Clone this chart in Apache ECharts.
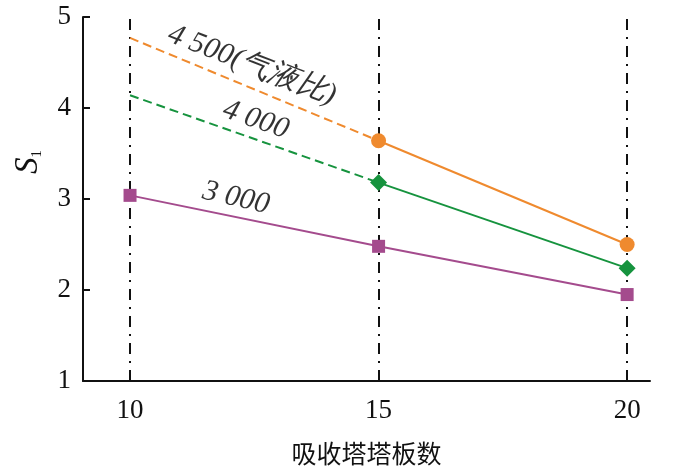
<!DOCTYPE html>
<html><head><meta charset="utf-8">
<script src="https://cdn.jsdelivr.net/npm/echarts@6/dist/echarts.min.js"></script>
<style>html,body{margin:0;padding:0;background:#fff}#c{width:700px;height:474px}</style>
</head><body><div id="c"></div>
<script>
// Data
const plates = [10, 15, 20];
const s4500 = [4.77, 3.64, 2.50];
const s4000 = [4.14, 3.18, 2.24];
const s3000 = [3.04, 2.48, 1.95];
const xTicks = [10, 15, 20];
const yTicks = [1, 2, 3, 4, 5];
const labels = [
  {text: '4 500(气液比)', x: 12.45, y: 4.47, rot: -21},
  {text: '4 000', x: 12.53, y: 3.87, rot: -19},
  {text: '3 000', x: 12.13, y: 3.01, rot: -13}
];
const xTitle = '吸收塔塔板数';

const C_OR = '#ef8a2e', C_GR = '#16933e', C_PU = '#a44b8d';
const serif = '"Liberation Serif", "Times New Roman", serif';

function pts(xs, ys, i0, i1){ const r=[]; for(let i=i0;i<=i1;i++) r.push([xs[i], ys[i]]); return r; }

const chart = echarts.init(document.getElementById('c'));
const series = [
  {type:'line', data: [], symbol:'none', z:1, zlevel:0,
   markLine:{silent:true, symbol:'none', label:{show:false}, z:1,
     lineStyle:{color:'#111', width:2, type:[11,7,2,7]},
     data: xTicks.map(v=>({xAxis:v}))}},
  {type:'line', data: pts(plates, s4500, 0, 1), symbol:'none', lineStyle:{color:C_OR, width:2, type:[9,5]}, z:3},
  {type:'line', data: pts(plates, s4500, 1, 2), symbol:'circle', symbolSize:15, itemStyle:{color:C_OR}, lineStyle:{color:C_OR, width:2}, z:4},
  {type:'line', data: pts(plates, s4000, 0, 1), symbol:'none', lineStyle:{color:C_GR, width:2, type:[9,5]}, z:3},
  {type:'line', data: pts(plates, s4000, 1, 2), symbol:'diamond', symbolSize:17, itemStyle:{color:C_GR}, lineStyle:{color:C_GR, width:2}, z:4},
  {type:'line', data: pts(plates, s3000, 0, 2), symbol:'rect', symbolSize:13, itemStyle:{color:C_PU}, lineStyle:{color:C_PU, width:2}, z:4},
  {type:'scatter', data: labels.map(l=>({value:[l.x,l.y], label:{formatter:l.text, rotate:l.rot}})),
   symbolSize:0, silent:true, z:5,
   label:{show:true, position:'inside', color:'#000', fontFamily:serif, fontStyle:'italic', fontSize:30}}
];

chart.setOption({
  animation:false,
  grid:{left:83, right:50, top:17, bottom:93, containLabel:false},
  xAxis:{type:'value', min:9.054, max:20.46,
    axisLine:{show:true, lineStyle:{color:'#111', width:2}},
    axisTick:{show:false},
    splitLine:{show:false},
    axisLabel:{customValues:xTicks, color:'#111', fontFamily:serif, fontSize:27, margin:16},
    name:xTitle, nameLocation:'middle', nameGap:60,
    nameTextStyle:{color:'#111', fontFamily:'"Noto Sans CJK SC", sans-serif', fontSize:25}
  },
  yAxis:{type:'value', min:1, max:5, interval:1,
    axisLine:{show:true, lineStyle:{color:'#111', width:2}},
    axisTick:{show:true, inside:true, length:7, lineStyle:{color:'#111', width:2}, customValues:yTicks},
    splitLine:{show:false},
    axisLabel:{color:'#111', fontFamily:serif, fontSize:27, margin:12}
  },
  graphic:[{type:'text', left:12, top:150, rotation:Math.PI/2,
    style:{rich:{s:{fontFamily:serif, fontStyle:'italic', fontSize:33, fill:'#111'},
                 b:{fontFamily:serif, fontSize:15, fill:'#111', verticalAlign:'bottom', padding:[16,0,0,0]}},
           text:'{s|S}{b|1}'}}],
  series: series
});
</script></body></html>
